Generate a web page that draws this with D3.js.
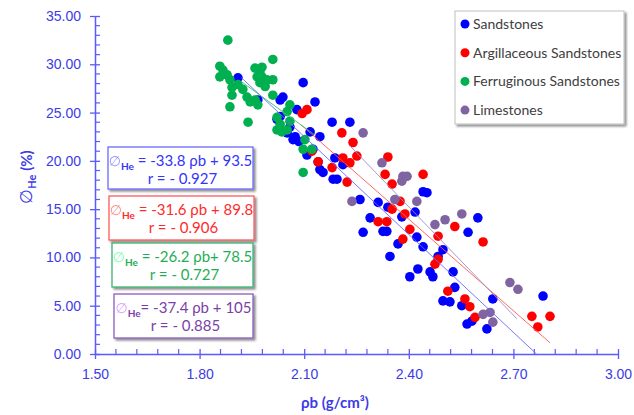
<!DOCTYPE html>
<html lang="en">
<head>
  <meta charset="UTF-8">
  <title>Porosity vs bulk density</title>
  <style>
    body { margin: 0; background: #fff; }
    svg { display: block; font-family: "Lato", "Open Sans", sans-serif; }
    .tick-label { fill: #3c3ce6; font-size: 14px; }
    .axis-title { fill: #3c3ce6; font-size: 15px; font-weight: bold; }
    .legend-label { fill: #404040; font-size: 14px; }
  </style>
</head>
<body>
<svg width="634" height="415"></svg>
<script src="https://d3js.org/d3.v7.min.js"></script>
<script>
  // data: [rho_b, porosity]
  const sandstones = [
    [1.910, 28.6], [1.967, 26.3], [2.031, 26.3], [2.039, 26.6], [2.097, 28.1], [2.131, 26.1],
    [2.079, 25.3], [2.031, 24.6], [2.022, 24.3], [2.059, 23.5], [2.051, 22.9], [2.074, 22.5],
    [2.068, 22.2], [2.085, 22.0], [2.117, 23.0], [2.145, 22.5], [2.180, 24.0], [2.231, 24.0],
    [2.125, 21.2], [2.108, 20.6], [2.140, 19.9], [2.145, 19.1], [2.154, 18.8], [2.188, 20.3],
    [2.211, 19.6], [2.183, 18.1], [2.194, 18.1], [2.441, 16.8], [2.452, 16.7], [2.260, 16.0],
    [2.312, 15.7], [2.340, 15.2], [2.289, 14.1], [2.380, 14.2], [2.418, 14.7], [2.269, 12.6],
    [2.326, 12.7], [2.337, 12.7], [2.369, 11.4], [2.423, 12.1], [2.441, 11.1], [2.346, 10.1],
    [2.498, 10.8], [2.484, 10.1], [2.570, 12.6], [2.598, 14.1], [2.403, 8.0], [2.426, 8.8],
    [2.461, 8.5], [2.469, 8.0], [2.527, 8.5], [2.532, 6.9], [2.498, 5.5], [2.518, 5.4],
    [2.552, 5.0], [2.567, 3.1], [2.581, 3.4], [2.624, 2.6], [2.641, 5.7], [2.785, 6.0]
  ];
  const argillaceous = [
    [2.108, 25.3], [2.094, 24.9], [2.208, 22.9], [2.240, 21.9], [2.251, 20.5], [2.122, 21.0],
    [2.140, 19.9], [2.180, 19.3], [2.211, 20.3], [2.231, 19.8], [2.223, 17.8], [2.340, 20.4],
    [2.332, 18.6], [2.352, 17.6], [2.441, 18.6], [2.375, 15.8], [2.352, 15.0], [2.389, 14.5],
    [2.312, 13.7], [2.337, 13.7], [2.403, 12.9], [2.383, 11.9], [2.484, 12.2], [2.532, 13.2],
    [2.613, 11.6], [2.475, 9.3], [2.484, 9.8], [2.512, 6.5], [2.561, 5.7], [2.575, 4.9],
    [2.590, 3.8], [2.753, 3.9], [2.805, 3.9], [2.770, 2.8]
  ];
  const ferruginous = [
    [1.881, 32.5], [1.858, 29.8], [1.867, 29.4], [1.858, 28.7], [1.879, 28.9], [1.887, 28.4],
    [1.893, 27.6], [1.910, 27.9], [1.924, 27.4], [1.936, 26.6], [1.945, 26.1], [1.959, 26.3],
    [1.967, 25.8], [1.887, 25.6], [1.939, 24.0], [1.959, 29.6], [1.979, 29.7], [1.965, 28.7],
    [1.993, 28.4], [2.010, 28.4], [2.010, 30.5], [1.973, 28.1], [1.988, 27.7], [2.010, 26.8],
    [1.973, 29.2], [2.059, 25.8], [2.051, 25.1], [2.022, 24.5], [2.031, 23.8], [2.036, 23.0],
    [2.059, 24.1], [2.051, 23.2], [2.097, 18.8], [2.102, 22.2], [2.122, 21.2], [2.097, 21.2],
    [2.022, 23.2], [1.979, 28.7], [1.893, 26.8]
  ];
  const limestones = [
    [2.269, 22.9], [2.323, 19.8], [2.383, 18.4], [2.395, 18.4], [2.380, 17.9], [2.237, 15.8],
    [2.360, 16.0], [2.423, 15.8], [2.475, 13.4], [2.504, 13.9], [2.552, 14.5], [2.690, 7.4],
    [2.713, 6.7], [2.613, 4.1], [2.633, 4.3], [2.641, 3.3]
  ];

  const seriesNames = ["Sandstones", "Argillaceous Sandstones", "Ferruginous Sandstones", "Limestones"];
  const seriesColors = ["#0000ff", "#ff0000", "#00b050", "#8064a2"];
  const lineColors = ["#6b6bff", "#ff5a5a", "#3cc070", "#a08cc8"];
  const borderColors = ["#6b6bff", "#ff5a5a", "#3cb371", "#8a5cc0"];
  const textColors = ["#3333ff", "#ff2b2b", "#1fae55", "#7a3fa8"];
  const slopes = [-33.8, -31.6, -26.2, -37.4];
  const intercepts = [93.5, 89.8, 78.5, 105];
  const rValues = ["- 0.927", "- 0.906", "- 0.727", "- 0.885"];
  const eqText = [" = -33.8 ρb + 93.5", " = -31.6 ρb + 89.8", " = -26.2 ρb+ 78.5", "= -37.4 ρb + 105"];
  const fitRanges = [[1.92, 2.766], [2.09, 2.805], [1.92, 2.13], [2.23, 2.71]];
  const xTicks = [1.5, 1.8, 2.1, 2.4, 2.7, 3.0];
  const yTicks = [0, 5, 10, 15, 20, 25, 30, 35];

  const allSeries = [sandstones, argillaceous, ferruginous, limestones];

  const svg = d3.select("svg");
  const x = d3.scaleLinear().domain([1.5, 3.0]).range([95, 618]);
  const y = d3.scaleLinear().domain([0, 35]).range([354, 16]);
  const axisColor = "#5a5aff";

  const defs = svg.append("defs");
  const shadow = defs.append("filter").attr("id", "shadow")
    .attr("x", "-10%").attr("y", "-10%").attr("width", "130%").attr("height", "140%");
  shadow.append("feDropShadow").attr("dx", 2).attr("dy", 2).attr("stdDeviation", 1.2)
    .attr("flood-color", "#000").attr("flood-opacity", 0.45);

  // y axis
  const yAxis = svg.append("g").attr("transform", `translate(${x(1.5)},0)`)
    .call(d3.axisLeft(y).tickValues(yTicks).tickSize(5).tickSizeOuter(0).tickPadding(9)
      .tickFormat(d3.format(".2f")));
  yAxis.select(".domain").attr("stroke", axisColor).attr("stroke-width", 1.5);
  yAxis.selectAll(".tick line").attr("stroke", axisColor).attr("stroke-width", 1.3).attr("x2", -5).attr("x1", 5);
  yAxis.selectAll(".tick text").attr("class", "tick-label").attr("fill", null);
  yAxis.selectAll(".minor").data(d3.range(0, 35, 1).filter(v => v % 5 !== 0))
    .enter().append("line")
    .attr("x1", 0).attr("x2", 5).attr("y1", d => y(d)).attr("y2", d => y(d))
    .attr("stroke", axisColor).attr("stroke-width", 1.2);

  // x axis
  const xAxis = svg.append("g").attr("transform", `translate(0,${y(0)})`)
    .call(d3.axisBottom(x).tickValues(xTicks).tickSize(5).tickSizeOuter(0).tickPadding(10)
      .tickFormat(d3.format(".2f")));
  xAxis.select(".domain").attr("stroke", axisColor).attr("stroke-width", 1.5);
  xAxis.selectAll(".tick line").attr("stroke", axisColor).attr("stroke-width", 1.3).attr("y1", -5).attr("y2", 5);
  xAxis.selectAll(".tick text").attr("class", "tick-label").attr("fill", null);
  xAxis.selectAll(".minor").data(d3.range(1.56, 3.0, 0.06).filter(v => Math.abs((v - 1.5) / 0.3 - Math.round((v - 1.5) / 0.3)) > 0.01))
    .enter().append("line")
    .attr("x1", d => x(d)).attr("x2", d => x(d)).attr("y1", 0).attr("y2", -5)
    .attr("stroke", axisColor).attr("stroke-width", 1.2);

  // axis titles
  svg.append("text").attr("class", "axis-title").attr("x", 335).attr("y", 408)
    .attr("text-anchor", "middle").text("ρb (g/cm³)");
  const yt = svg.append("text").attr("class", "axis-title")
    .attr("transform", "translate(32,177) rotate(-90)").attr("text-anchor", "middle");
  yt.append("tspan").attr("font-weight", "normal").attr("font-size", 17).text("∅");
  yt.append("tspan").attr("font-size", 11).attr("dy", 4).text("He");
  yt.append("tspan").attr("dy", -4).text(" (%)");

  // points
  allSeries.forEach((data, i) => {
    svg.append("g").selectAll("circle").data(data).enter().append("circle")
      .attr("cx", d => x(d[0])).attr("cy", d => y(d[1])).attr("r", 4.8)
      .attr("fill", seriesColors[i]);
  });

  // trend lines
  fitRanges.forEach((r, i) => {
    svg.append("line")
      .attr("x1", x(r[0])).attr("y1", y(slopes[i] * r[0] + intercepts[i]))
      .attr("x2", x(r[1])).attr("y2", y(slopes[i] * r[1] + intercepts[i]))
      .attr("stroke", lineColors[i]).attr("stroke-width", 1).attr("opacity", 0.9);
  });

  // equation boxes
  const boxes = [[108, 147, 145, 42], [109, 196, 145, 44], [112, 243, 141, 44], [114, 294, 139, 44]];
  boxes.forEach((b, i) => {
    const g = svg.append("g");
    g.append("rect").attr("x", b[0]).attr("y", b[1]).attr("width", b[2]).attr("height", b[3])
      .attr("fill", "#fff").attr("stroke", borderColors[i])
      .attr("stroke-width", 1.3).attr("filter", "url(#shadow)");
    const cx = b[0] + b[2] / 2;
    const t1 = g.append("text").attr("x", cx).attr("y", b[1] + 19).attr("text-anchor", "middle")
      .attr("font-size", 15).attr("fill", textColors[i]);
    t1.append("tspan").attr("fill", d3.color(textColors[i]).brighter(1.2)).attr("font-family", "DejaVu Sans")
      .attr("font-size", 14).attr("opacity", 0.6).text("∅");
    t1.append("tspan").attr("font-size", 10).attr("font-weight", "bold").attr("dy", 4).text("He");
    t1.append("tspan").attr("dy", -4).text(eqText[i]);
    g.append("text").attr("x", cx + 2).attr("y", b[1] + 37).attr("text-anchor", "middle")
      .attr("font-size", 15).attr("fill", textColors[i]).text("r = " + rValues[i]);
  });

  // legend
  const legend = svg.append("g");
  legend.append("rect").attr("x", 455).attr("y", 11).attr("width", 169).attr("height", 113)
    .attr("fill", "#fff").attr("stroke", "#bfbfbf").attr("filter", "url(#shadow)");
  seriesNames.forEach((name, i) => {
    const ly = 24 + i * 28.7;
    legend.append("circle").attr("cx", 465).attr("cy", ly).attr("r", 4.5).attr("fill", seriesColors[i]);
    legend.append("text").attr("class", "legend-label").attr("x", 473).attr("y", ly + 5).text(name);
  });
</script>
</body>
</html>
